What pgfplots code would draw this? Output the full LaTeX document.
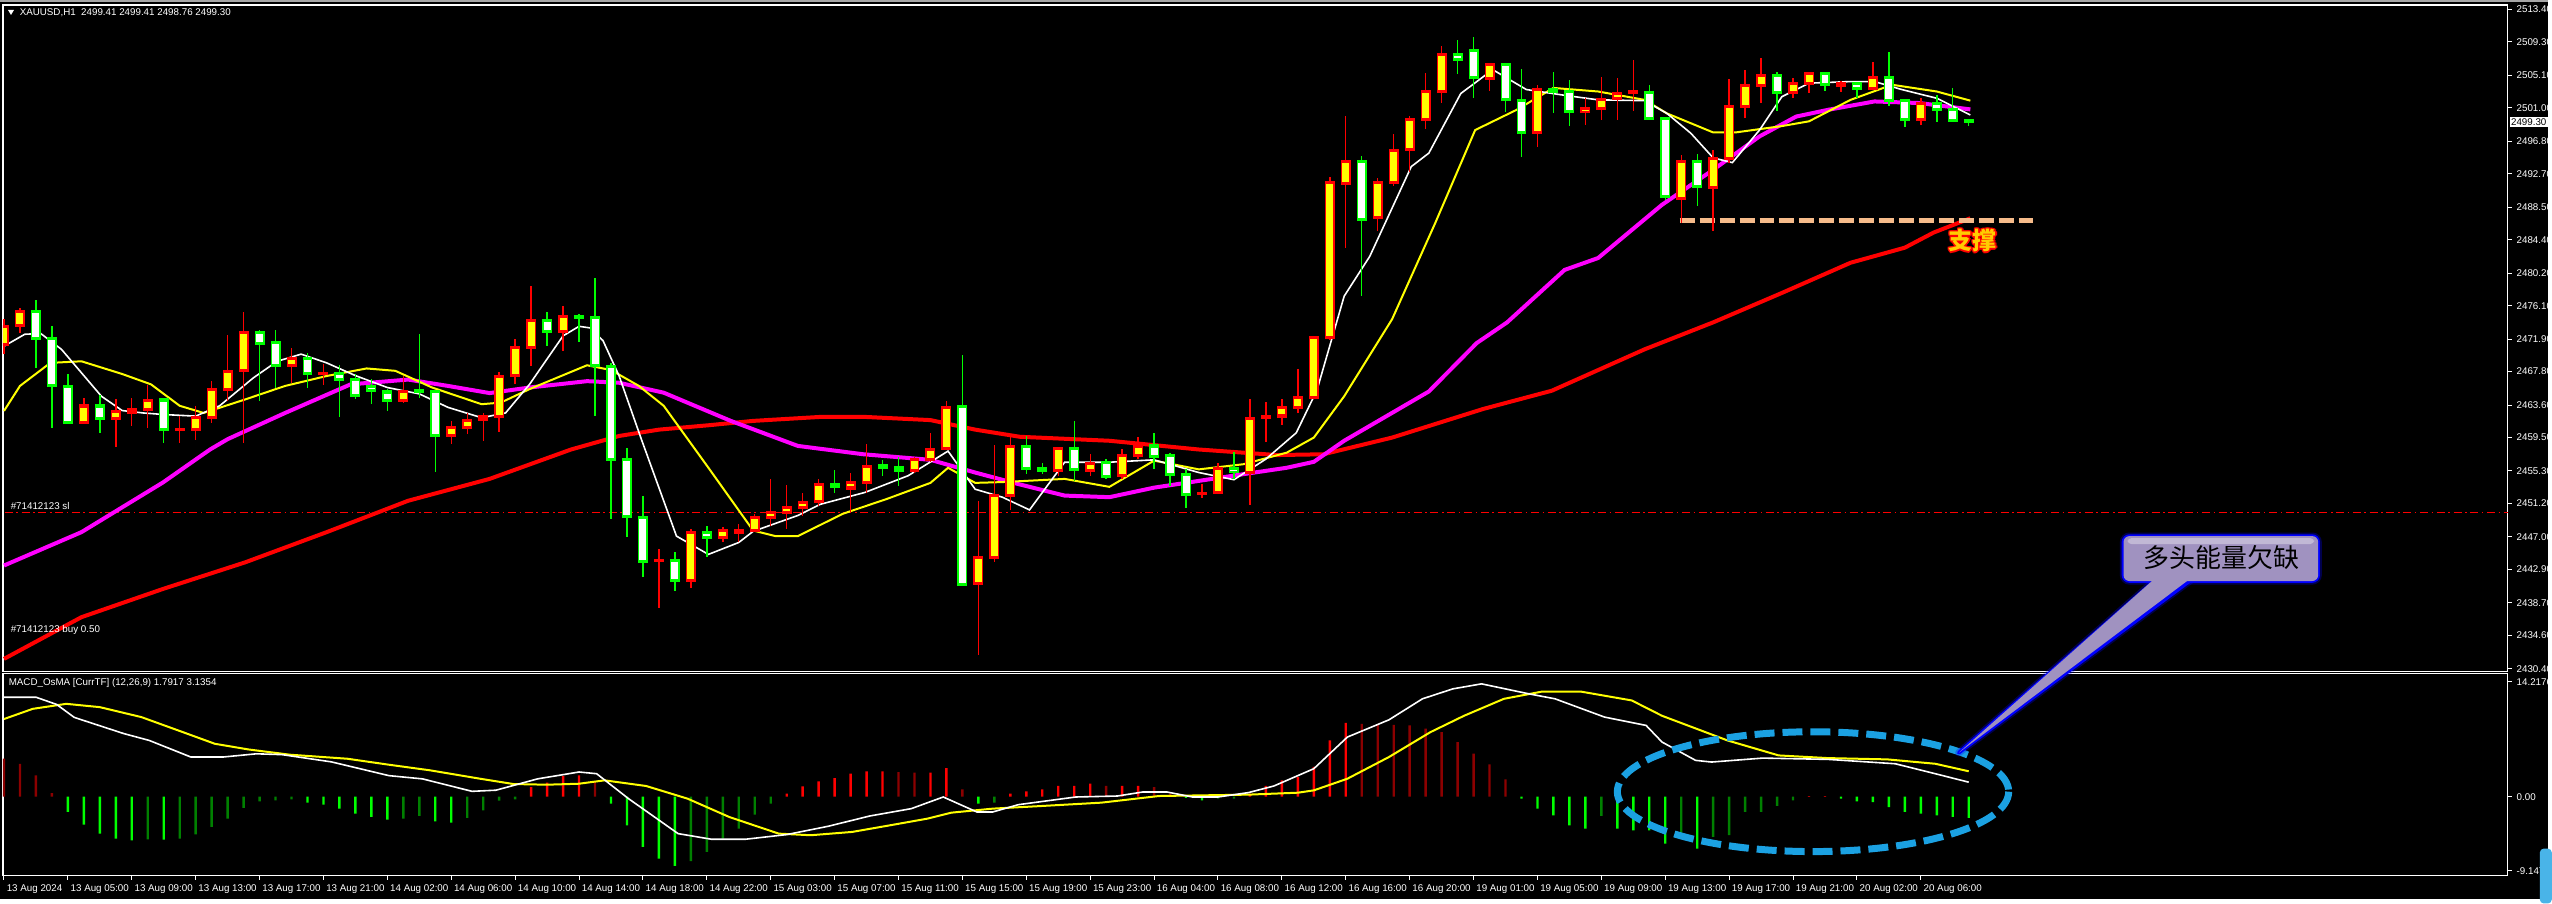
\documentclass[border=0pt]{standalone}
\usepackage{pgfplots}
\pgfplotsset{compat=1.18}
\usepackage{pgfplotstable}
\usepackage{fontspec}
\setmainfont{Liberation Sans}
\newfontfamily\cjk{Noto Sans CJK SC}
\newcommand{\lab}{\fontsize{2.45pt}{2.9pt}\selectfont}
\definecolor{mtgreen}{RGB}{0,255,0}
\definecolor{mtyellow}{RGB}{255,255,0}
\definecolor{mtmag}{RGB}{255,0,255}
\definecolor{mtred}{RGB}{255,0,0}
\definecolor{mtdred}{RGB}{140,0,0}
\definecolor{mtdgreen}{RGB}{0,128,0}
\definecolor{lav}{RGB}{160,146,192}
\definecolor{skyb}{RGB}{27,161,226}
\definecolor{peach}{RGB}{246,187,138}
\definecolor{gold}{RGB}{255,204,0}

\pgfplotsset{
  mt4/.style={scale only axis, width=627.25pt, enlargelimits=false,
    xmin=-0.0625, xmax=156.75, axis background/.style={fill=black},
    axis line style={white, line width=0.3pt},
    tick style={white, line width=0.25pt}, major tick length=1pt, tick align=outside,
    ytick pos=right, yticklabel pos=right,
    ticklabel style={font=\lab, text=white, inner sep=0pt},
    yticklabel style={anchor=west, xshift=1pt},
    /pgf/number format/assume math mode=true},
  wick/.style={draw=none, mark=none, forget plot, error bars/.cd, y dir=both, y explicit,
    error mark=none, error bar style={draw=#1, line width=0.35pt, solid}},
  body/.style 2 args={draw=none, mark=none, forget plot, error bars/.cd, y dir=both, y explicit,
    error mark=none, error bar style={draw=#1, line width=#2, solid}},
}

% H1 candles, bar index 0 = 13 Aug 01:00
\pgfplotstableread{
i O H L C
0 2471.23 2474.40 2470.00 2473.53
1 2473.62 2475.83 2472.69 2475.42
5 2461.39 2464.53 2461.18 2463.48
7 2461.93 2464.32 2458.37 2462.73
8 2462.64 2464.53 2460.97 2462.98
9 2463.06 2466.08 2460.76 2464.11
11 2460.51 2462.22 2458.88 2460.55
12 2460.55 2463.48 2459.21 2462.01
13 2462.01 2466.62 2461.39 2465.49
14 2465.57 2472.36 2464.11 2467.88
15 2467.96 2475.33 2458.88 2472.69
18 2468.59 2470.81 2466.41 2469.43
20 2467.54 2468.72 2466.08 2467.60
25 2464.19 2467.25 2463.90 2465.37
28 2459.80 2461.60 2458.67 2460.76
29 2460.76 2462.64 2459.92 2461.72
30 2461.81 2462.64 2459.08 2462.14
31 2462.22 2467.75 2460.21 2467.25
32 2467.33 2471.86 2466.20 2470.81
33 2470.81 2478.56 2468.51 2474.28
35 2472.82 2476.13 2470.39 2474.79
41 2444.00 2445.47 2438.00 2444.02
43 2441.53 2447.98 2440.53 2447.56
45 2446.93 2448.32 2446.39 2447.77
46 2447.60 2448.60 2446.39 2447.77
47 2447.77 2449.87 2447.56 2449.41
48 2449.41 2454.26 2448.40 2450.07
49 2450.07 2453.50 2448.00 2450.70
50 2450.70 2452.50 2449.66 2451.33
51 2451.41 2454.26 2450.91 2453.59
53 2453.17 2455.00 2450.00 2453.84
54 2453.84 2458.66 2452.59 2455.85
57 2455.40 2457.10 2455.10 2456.69
58 2456.69 2460.12 2456.50 2458.03
59 2458.11 2464.10 2457.90 2463.35
61 2441.15 2451.54 2432.10 2444.42
62 2444.42 2458.53 2443.90 2452.25
63 2452.25 2459.70 2450.41 2458.37
66 2455.39 2458.37 2454.68 2458.12
68 2455.31 2457.40 2454.68 2456.23
70 2454.68 2458.12 2454.35 2457.19
71 2457.19 2459.62 2456.78 2458.37
75 2452.50 2453.63 2451.88 2452.52
76 2452.59 2456.27 2452.38 2455.60
78 2455.10 2464.40 2451.00 2461.88
79 2462.00 2463.98 2458.95 2462.20
80 2462.22 2464.31 2461.05 2463.27
81 2463.27 2468.09 2462.64 2464.53
82 2464.53 2472.20 2464.30 2472.06
83 2472.06 2492.29 2471.80 2491.54
84 2491.54 2500.00 2483.37 2494.26
86 2487.14 2492.16 2485.47 2491.62
87 2491.62 2497.73 2491.12 2495.64
88 2495.72 2500.00 2492.88 2499.58
89 2499.58 2505.44 2498.32 2503.05
90 2503.05 2508.79 2501.59 2507.74
93 2504.73 2506.60 2503.18 2506.49
96 2497.90 2503.90 2496.06 2503.26
99 2500.54 2502.22 2498.87 2500.96
100 2500.96 2504.94 2499.41 2502.01
101 2502.13 2504.73 2499.49 2502.76
102 2502.96 2507.03 2500.54 2503.05
105 2489.65 2495.10 2486.51 2494.26
107 2491.03 2495.72 2485.47 2494.68
108 2494.68 2504.60 2494.05 2501.17
109 2501.17 2505.78 2499.70 2503.81
110 2503.81 2507.24 2501.67 2505.02
112 2502.97 2504.73 2502.22 2504.10
113 2504.10 2505.57 2502.84 2505.36
115 2503.77 2504.43 2503.05 2504.10
117 2503.47 2506.82 2503.26 2504.81
120 2499.49 2502.22 2498.87 2501.59
}\bull

\pgfplotstableread{
i O H L C
2 2475.42 2476.88 2468.30 2471.94
3 2471.94 2473.53 2460.76 2466.08
4 2466.00 2467.54 2461.30 2461.39
6 2463.48 2464.82 2460.13 2461.89
10 2464.23 2464.40 2458.88 2460.55
16 2472.69 2473.03 2464.11 2471.35
17 2471.44 2472.99 2465.78 2468.59
19 2469.43 2470.18 2465.78 2467.58
21 2467.63 2468.63 2462.14 2466.83
22 2466.83 2467.46 2464.40 2464.82
23 2466.00 2466.83 2463.77 2465.45
24 2465.24 2465.57 2462.85 2464.15
26 2465.37 2472.49 2464.53 2465.30
27 2465.37 2465.40 2455.23 2459.80
34 2474.20 2475.29 2471.02 2472.82
36 2474.70 2475.10 2471.52 2474.65
37 2474.58 2479.60 2462.22 2468.59
38 2468.51 2468.90 2449.33 2456.78
39 2456.78 2458.25 2446.94 2449.58
40 2449.45 2452.17 2442.00 2443.92
42 2444.04 2445.05 2440.24 2441.53
44 2447.56 2448.32 2444.42 2446.93
52 2453.59 2455.39 2452.59 2453.34
55 2455.93 2456.70 2454.68 2455.68
56 2455.73 2457.10 2453.42 2455.40
60 2463.35 2469.97 2441.00 2441.07
64 2458.37 2459.70 2454.89 2455.60
65 2455.64 2456.36 2454.89 2455.39
67 2458.12 2461.59 2454.05 2455.52
69 2456.36 2456.80 2454.35 2454.68
72 2458.45 2460.04 2455.52 2457.19
73 2457.28 2457.60 2453.42 2454.81
74 2454.85 2455.52 2450.62 2452.34
77 2455.60 2457.70 2454.35 2455.18
85 2494.26 2494.97 2477.30 2487.01
91 2507.74 2509.54 2505.27 2507.03
92 2508.20 2509.88 2502.22 2504.85
94 2506.49 2506.60 2500.54 2502.00
95 2501.92 2505.86 2494.80 2497.90
97 2503.26 2505.57 2500.33 2503.05
98 2503.05 2504.52 2498.66 2500.54
103 2502.93 2503.90 2499.60 2499.70
104 2499.70 2499.90 2489.40 2489.78
106 2494.26 2495.22 2488.60 2491.03
111 2505.02 2505.57 2500.54 2502.97
114 2505.36 2505.57 2503.18 2503.98
116 2504.10 2504.30 2502.22 2503.47
118 2504.81 2508.08 2501.17 2501.88
119 2501.88 2502.09 2498.57 2499.49
121 2501.59 2502.64 2499.28 2500.75
122 2500.75 2503.47 2499.16 2499.41
123 2499.41 2499.41 2498.76 2499.30
}\bear

\begin{document}
\begin{tikzpicture}
\begin{scope}[x=0.25pt, y=-0.25pt]
  \useasboundingbox (0,0) rectangle (2552,900);
  \fill[black] (0,0) rectangle (2552,900);
  \fill[gray!70] (0,0) rectangle (2552,2.5);
\end{scope}

% ---------- price panel ----------
\begin{axis}[mt4, at={(0.75pt,-1.25pt)}, anchor=north west, height=167pt,
  ymin=2430.02, ymax=2513.94, xtick=\empty,
  ytick={2513.4,2509.3,2505.1,2501.0,2496.8,2492.7,2488.5,2484.4,2480.2,2476.1,2471.9,
         2467.8,2463.6,2459.5,2455.3,2451.2,2447.0,2442.9,2438.7,2434.6,2430.4},
  yticklabels={2513.40,2509.30,2505.10,2501.00,2496.80,2492.70,2488.50,2484.40,2480.20,2476.10,2471.90,
         2467.80,2463.60,2459.50,2455.30,2451.20,2447.00,2442.90,2438.70,2434.60,2430.40}]

% stop-loss line
\addplot[mtred, line width=0.3pt, dash pattern=on 2pt off 0.9pt on 0.4pt off 0.9pt]
  coordinates {(-1,2450.12) (157,2450.12)};

% moving averages
\addplot[mtred, line width=1pt] coordinates {
(0,2431.65) (4.85,2436.9) (9.95,2440.45) (15.1,2443.8) (20.2,2447.6) (25.3,2451.55) (30.4,2454.3)
(35.5,2458.0) (38.5,2459.7) (41,2460.5) (44.1,2461.05) (46.9,2461.6) (51.1,2462.1) (53.9,2462.1)
(58,2461.7) (60.8,2460.5) (63.6,2459.6) (69.2,2459.1) (74.8,2458.0) (79.7,2457.3) (82.6,2457.4)
(86.9,2459.5) (92.6,2463.1) (96.9,2465.4) (102.7,2470.6) (107,2474.0) (111.3,2477.7) (115.6,2481.5)
(119,2483.4) (120.8,2485.3) (123.1,2487.1)};
\addplot[mtmag, line width=1pt] coordinates {
(0,2443.4) (4.85,2447.6) (9.95,2453.85) (12.9,2458.0) (14,2459.3) (17.6,2462.6) (21.7,2466.2)
(25.3,2466.8) (27.8,2466.0) (30.4,2465.1) (32.9,2465.8) (36.5,2466.6) (38.5,2466.4) (41.3,2465.15)
(45.5,2461.6) (49.7,2458.45) (53.8,2457.4) (58,2456.7) (60.8,2455.1) (63.6,2453.6) (66.4,2452.2)
(69.2,2452.0) (72,2453.2) (74.8,2454.05) (77.6,2454.9) (80.3,2455.7) (82,2456.45) (83.9,2459.1)
(89.2,2465.3) (92.2,2471.4) (94.1,2474.0) (97.7,2480.6) (99.8,2482.1) (103.8,2488.8) (107,2493.2)
(109.9,2497.4) (112.2,2499.9) (114.2,2500.75) (117.1,2501.8) (119.9,2501.6) (123.1,2500.8)};
\addplot[mtyellow, line width=0.5pt] coordinates {
(0,2462.85) (1,2466.0) (2.9,2468.9) (4.85,2469.1) (7.4,2467.5) (9.2,2466.2) (11,2463.5) (12.5,2462.6)
(15.1,2464.3) (17.6,2466.0) (20.2,2467.25) (22.7,2468.2) (24.5,2467.9) (26.8,2465.8) (29.9,2463.7)
(31.1,2463.9) (32.9,2465.6) (36.5,2468.6) (38,2468.0) (39.75,2466.0) (41.3,2463.5) (44.1,2455.7)
(46.9,2447.8) (48.3,2447.1) (49.7,2447.1) (52.5,2449.9) (55.3,2451.8) (58,2453.8) (59.1,2455.7)
(60.8,2453.8) (62.5,2453.9) (66.4,2454.3) (69.2,2453.3) (72,2456.6) (74.8,2455.5) (77.6,2456.15)
(80.3,2457.6) (82,2459.5) (83.9,2464.7) (86.9,2474.4) (89.6,2486.5) (92.1,2498.2) (94.7,2500.75)
(97,2503.5) (99.8,2503.05) (102.7,2502.0) (104.1,2500.3) (107,2497.9) (108.4,2497.9) (111.3,2498.7)
(113,2499.3) (115.6,2502.0) (118.2,2503.9) (121,2503.05) (123.1,2501.9)};
\addplot[white, line width=0.4pt] coordinates {
(0,2471.0) (1.3,2472.5) (2.3,2472.6) (3.6,2470.6) (6.1,2464.7) (7.4,2462.9) (8.7,2462.6) (10,2462.4)
(12,2462.2) (13.5,2463.5) (15.6,2467.0) (17.1,2469.1) (18.6,2470.0) (20.2,2468.9) (22,2467.3)
(24,2465.8) (26,2465.0) (27.8,2463.3) (29.9,2462.0) (31.4,2462.6) (32.9,2466.2) (35,2472.3)
(36,2473.5) (36.7,2473.3) (37.5,2471.7) (38.5,2467.3) (39.9,2459.3) (42.1,2447.1) (44.1,2444.8)
(46,2446.3) (46.9,2447.7) (49.7,2449.7) (51.1,2451.1) (53.9,2452.6) (56.6,2454.7) (59.1,2457.8)
(60.8,2453.0) (62.5,2452.0) (64.2,2450.4) (66.4,2456.4) (69.2,2456.4) (72,2456.7) (74.8,2455.1)
(77,2454.2) (79,2456.8) (80.9,2460.1) (82.2,2465.5) (83.9,2477.3) (85.5,2482.3) (88.1,2493.6)
(89.2,2495.3) (91.2,2502.8) (93.2,2505.8) (95.3,2503.3) (97.6,2502.6) (99.8,2502.0) (102.7,2501.9)
(104.1,2500.3) (105.6,2497.8) (107,2494.7) (108.2,2494.1) (109.9,2498.2) (111.3,2502.4) (113,2504.1)
(115.6,2504.3) (117.1,2504.3) (118.8,2503.3) (121,2502.2) (123.1,2500.1)};

% support line
\addplot[peach, line width=1.1pt, dash pattern=on 3.75pt off 1.25pt]
  coordinates {(104.9,2486.8) (127,2486.8)};

% candles: bullish (yellow body, red outline) and bearish (white body, green outline)
\addplot[wick=mtred] table[x=i, y expr={(\thisrow{H}+\thisrow{L})/2},
  y error expr={(\thisrow{H}-\thisrow{L})/2}] {\bull};
\addplot[wick=mtgreen] table[x=i, y expr={(\thisrow{H}+\thisrow{L})/2},
  y error expr={(\thisrow{H}-\thisrow{L})/2}] {\bear};
\addplot[body={mtred}{2.5pt}] table[x=i, y expr={(\thisrow{O}+\thisrow{C})/2},
  y error expr={abs(\thisrow{C}-\thisrow{O})/2+0.19}] {\bull};
\addplot[body={mtyellow}{1.75pt}] table[x=i, y expr={(\thisrow{O}+\thisrow{C})/2},
  y error expr={max(abs(\thisrow{C}-\thisrow{O})/2-0.19,0)}] {\bull};
\addplot[body={mtgreen}{2.5pt}] table[x=i, y expr={(\thisrow{O}+\thisrow{C})/2},
  y error expr={abs(\thisrow{C}-\thisrow{O})/2+0.19}] {\bear};
\addplot[body={white}{1.75pt}] table[x=i, y expr={(\thisrow{O}+\thisrow{C})/2},
  y error expr={max(abs(\thisrow{C}-\thisrow{O})/2-0.19,0)}] {\bear};
\end{axis}

% ---------- MACD / OsMA panel ----------
\begin{axis}[mt4, at={(0.75pt,-168.75pt)}, anchor=north west, height=50.5pt,
  ymin=-9.753, ymax=15.185,
  ytick={-9.147,0,14.2176}, yticklabels={-9.147,0.00,14.2176},
  xtick={0,4,...,120}, xtick pos=bottom,
  xticklabels={13 Aug 2024,13 Aug 05:00,13 Aug 09:00,13 Aug 13:00,13 Aug 17:00,13 Aug 21:00,
    14 Aug 02:00,14 Aug 06:00,14 Aug 10:00,14 Aug 14:00,14 Aug 18:00,14 Aug 22:00,
    15 Aug 03:00,15 Aug 07:00,15 Aug 11:00,15 Aug 15:00,15 Aug 19:00,15 Aug 23:00,
    16 Aug 04:00,16 Aug 08:00,16 Aug 12:00,16 Aug 16:00,16 Aug 20:00,
    19 Aug 01:00,19 Aug 05:00,19 Aug 09:00,19 Aug 13:00,19 Aug 17:00,19 Aug 21:00,
    20 Aug 02:00,20 Aug 06:00},
  xticklabel style={anchor=west, yshift=-2.3pt, xshift=0.5pt}]

\addplot[ybar, bar width=0.6pt, bar shift=0pt, fill=mtred, draw=none] coordinates {
(33,1.19) (34,1.73) (35,2.55) (36,2.63) (49,0.37) (50,1.28) (51,1.89) (52,2.30) (53,2.84) (54,3.13)
(55,3.13) (58,2.96) (59,3.54) (63,0.37) (64,0.66) (65,0.90) (66,1.32) (67,1.32) (68,1.60) (70,1.32)
(71,1.32) (78,0.37) (79,1.32) (80,2.02) (81,2.43) (82,3.67) (83,6.95) (84,9.14) (113,0.08) (114,0.08)};
\addplot[ybar, bar width=0.6pt, bar shift=0pt, fill=mtdred, draw=none] coordinates {
(0,4.69) (1,4.07) (2,2.63) (3,0.45) (37,1.81) (56,3.05) (57,2.96) (60,0.9) (69,1.32) (72,1.19)
(73,0.37) (85,9.01) (86,8.89) (87,8.89) (88,8.81) (89,8.4) (90,7.98) (91,6.75) (92,5.31) (93,4.0) (94,2.14)};
\addplot[ybar, bar width=0.6pt, bar shift=0pt, fill=mtgreen, draw=none] coordinates {
(4,-1.89) (5,-3.46) (6,-4.57) (7,-5.19) (8,-5.39) (10,-5.3) (19,-0.74) (20,-0.99) (21,-1.48)
(22,-2.10) (23,-2.51) (24,-2.84) (27,-3.05) (28,-3.21) (38,-0.86) (39,-3.54) (40,-6.21) (41,-7.65)
(42,-8.56) (61,-0.86) (74,-0.16) (75,-0.45) (95,-0.25) (96,-1.48) (97,-2.3) (98,-3.54) (99,-3.95)
(101,-3.95) (102,-4.16) (103,-4.16) (104,-5.8) (106,-6.42) (115,-0.25) (116,-0.58) (117,-0.66)
(118,-1.28) (119,-1.89) (120,-2.1) (121,-2.3) (122,-2.51) (123,-2.63)};
\addplot[ybar, bar width=0.6pt, bar shift=0pt, fill=mtdgreen, draw=none] coordinates {
(9,-5.27) (11,-5.19) (12,-4.65) (13,-3.74) (14,-2.72) (15,-1.40) (16,-0.58) (17,-0.45) (18,-0.33)
(25,-2.72) (26,-2.39) (29,-2.63) (30,-1.69) (31,-0.49) (32,-0.33) (43,-7.98) (44,-6.83) (45,-5.19)
(46,-3.95) (47,-2.22) (48,-0.86) (62,-0.74) (76,-0.25) (77,-0.25) (100,-2.39) (105,-5.19)
(107,-4.98) (108,-4.77) (109,-1.89) (110,-1.89) (111,-1.15) (112,-0.45)};

% signal line
\addplot[mtyellow, line width=0.5pt] coordinates {
(0,9.6) (1.8,10.86) (3.9,11.48) (6,11.07) (8.6,9.84) (11.2,7.98) (13.2,6.54) (15.3,5.84) (17.9,5.19)
(21.5,4.69) (24.1,3.95) (26.7,3.25) (29.8,2.22) (31.9,1.56) (34,1.48) (36,1.6) (37.6,2.02) (40.2,1.32)
(42.8,-0.25) (45.4,-2.51) (48.5,-4.57) (50.5,-4.77) (53.1,-4.36) (55.7,-3.46) (57.8,-2.72) (59.3,-1.98)
(61.9,-1.48) (65,-1.15) (68.7,-0.74) (72.3,0.08) (74.9,0.16) (77.9,0.25) (81,0.49) (82,0.78) (84.1,2.22)
(86.7,4.9) (89.3,7.98) (91.4,10.0) (93.9,12.1) (96.3,13.0) (98.7,13.0) (101.9,11.9) (103.8,10.0)
(107.9,6.95) (111.1,5.1) (114.2,4.77) (117.9,4.61) (120.9,4.07) (123,3.14)};
% MACD line
\addplot[white, line width=0.4pt] coordinates {
(0,12.3) (2,12.3) (3.3,11.4) (4.4,9.8) (7.5,7.8) (9.1,6.95) (11.7,4.9) (13.7,4.9) (15.8,5.3) (17.4,5.2)
(20.5,4.3) (24.1,2.6) (26.2,2.2) (29.3,0.66) (30.8,0.8) (33.4,2.2) (36,3.05) (37.1,2.84) (39.1,-0.25)
(42.2,-4.57) (44.3,-5.27) (46.4,-5.27) (49,-4.69) (51.6,-3.66) (54.2,-2.39) (56.8,-1.48) (58.8,-0.04)
(60.9,-1.89) (61.9,-1.89) (63.5,-0.99) (67.1,-0.04) (69.7,0.08) (71.3,0.58) (72.8,0.58) (74.4,-0.04)
(76,-0.04) (77.9,0.5) (79.5,1.32) (82,3.46) (84.1,7.37) (86.7,9.5) (88.8,12.1) (90.7,13.33) (92.5,13.95)
(95.5,12.7) (97.1,12.1) (100.2,9.84) (102.8,8.81) (103.8,6.75) (105.9,4.49) (106.9,4.28) (110.1,4.77)
(114.2,4.61) (118.4,4.07) (120.9,2.84) (123,1.79)};
\end{axis}

% ---------- texts and drawings on top ----------
\begin{scope}[x=0.25pt, y=-0.25pt]
  \fill[white] (8,10) -- (14,10) -- (11,15) -- cycle;
  \node[anchor=west, inner sep=0pt, font=\lab, text=white] at (19,12.5)
    {XAUUSD,H1\ \ 2499.41 2499.41 2498.76 2499.30};
  \node[anchor=west, inner sep=0pt, font=\lab, text=white] at (10,507) {\#71412123 sl};
  \node[anchor=west, inner sep=0pt, font=\lab, text=white] at (10,631) {\#71412123 buy 0.50};
  \node[anchor=west, inner sep=0pt, font=\lab, text=white] at (8,684)
    {MACD\_OsMA [CurrTF] (12,26,9) 1.7917 3.1354};
  \node[anchor=west, fill=white, text=black, inner sep=0.35pt, font=\lab] at (2513,122) {2499.30};

  % support label
  \foreach \dx/\dy in {-1.6/0,1.6/0,0/-1.6,0/1.6,-1.2/-1.2,1.2/1.2,-1.2/1.2,1.2/-1.2}
    \node[text=mtred, font=\cjk\bfseries\fontsize{6pt}{6pt}\selectfont] at (1976+\dx,241+\dy) {支撑};
  \node[text=gold, font=\cjk\bfseries\fontsize{6pt}{6pt}\selectfont] at (1976,241) {支撑};

  % dashed ellipse
  \draw[skyb, line width=1.75pt, dash pattern=on 5pt off 2pt] (1816,793) ellipse [x radius=196, y radius=60];

  % callout
  \draw[blue, line width=1.8pt, opacity=0.3, rounded corners=1.5pt] (2127,537) rectangle (2322,582);
  \draw[blue, line width=1.8pt, opacity=0.3, line join=round] (2160,580) -- (1962,754) -- (2196,580);
  \draw[blue, line width=0.9pt, rounded corners=1.5pt] (2127,537) rectangle (2322,582);
  \draw[blue, line width=0.9pt, line join=round] (2160,580) -- (1962,754) -- (2196,580);
  \fill[lav] (2160,578) -- (1962,754) -- (2196,578) -- cycle;
  \fill[lav, rounded corners=1.5pt] (2127,537) rectangle (2322,582);
  \fill[white, opacity=0.35, rounded corners=1pt] (2131,539) rectangle (2318,545);
  \node[font=\cjk\fontsize{6.5pt}{6.5pt}\selectfont, text=black] at (2225,558) {多头能量欠缺};

  \fill[skyb!80!white, rounded corners=1pt] (2544,850) rectangle (2556,905);
\end{scope}
\end{tikzpicture}
\end{document}
